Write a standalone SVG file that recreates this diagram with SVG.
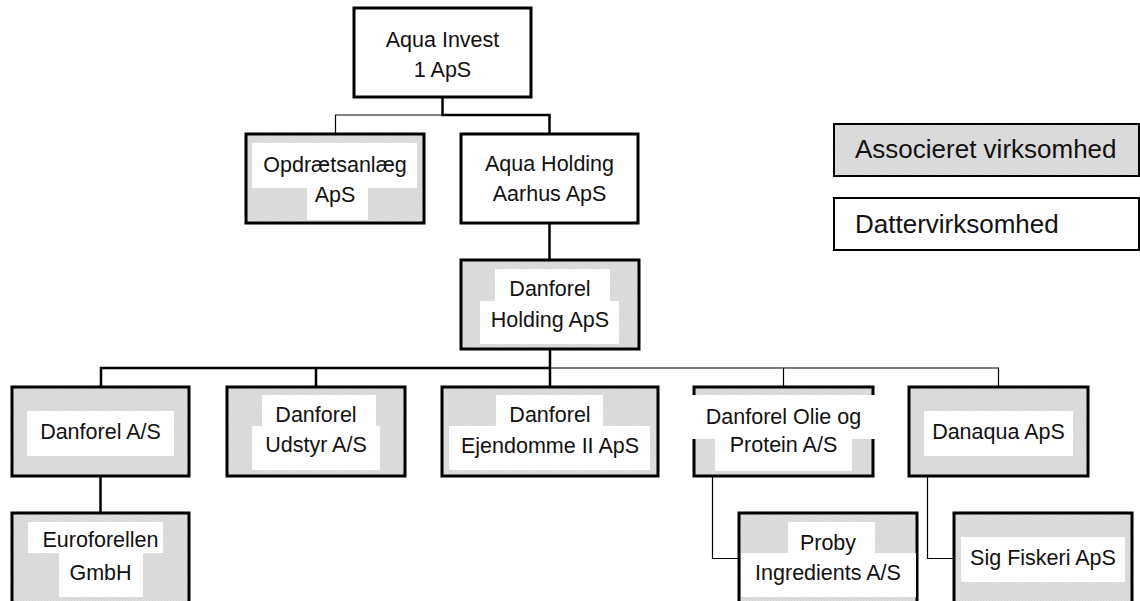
<svg xmlns="http://www.w3.org/2000/svg" width="1140" height="601" viewBox="0 0 1140 601">
<defs>
<pattern id="hatch" width="3" height="3" patternUnits="userSpaceOnUse">
<rect width="3" height="3" fill="#dedede"/>
<path d="M-1,1 l2,-2 M0,3 l3,-3 M2,4 l2,-2" stroke="#d0d0d0" stroke-width="0.8"/>
</pattern>
</defs>
<style>
.box{stroke:#000;stroke-width:3}
.assoc{fill:url(#hatch)}
.sub{fill:#fff}
.hl{fill:#fff}
.t{font-family:"Liberation Sans",Arial,sans-serif;font-size:21.5px;fill:#111;text-anchor:middle}
.lg{font-family:"Liberation Sans",Arial,sans-serif;font-size:26px;fill:#111}
.thick{stroke:#000;stroke-width:2.5;fill:none}
.thin{stroke:#000;stroke-width:1.2;fill:none}
</style>
<rect width="1140" height="601" fill="#fff"/>
<g id="connectors">
<path class="thick" d="M442.5,97 V115 H549.5 V134"/>
<path class="thin" d="M442.5,115 H335.5 V134"/>
<path class="thick" d="M549.5,223 V260"/>
<path class="thick" d="M550,349 V387 M550,368 H101 V387 M316,368 V387"/>
<path class="thin" d="M550,368 H998.5 V387 M783.5,368 V387"/>
<path class="thick" d="M100.5,476 V513"/>
<path class="thin" d="M712.5,476 V558.5 H739"/>
<path class="thin" d="M927.5,476 V558.5 H954"/>
</g>
<g id="aqua-invest">
<rect class="box sub" x="354" y="8" width="177" height="89"/>
<text class="t" x="442.5" y="47">Aqua Invest</text>
<text class="t" x="442.5" y="77">1 ApS</text>
</g>
<g id="opdraetsanlaeg">
<rect class="box assoc" x="246" y="134" width="178" height="89"/>
<rect class="hl" x="252" y="143" width="165" height="45"/>
<rect class="hl" x="307" y="188" width="61" height="32"/>
<text class="t" x="335" y="172">Opdrætsanlæg</text>
<text class="t" x="335" y="202">ApS</text>
</g>
<g id="aqua-holding">
<rect class="box sub" x="461" y="134" width="177" height="89"/>
<text class="t" x="549.5" y="171">Aqua Holding</text>
<text class="t" x="549.5" y="201">Aarhus ApS</text>
</g>
<g id="danforel-holding">
<rect class="box assoc" x="461" y="260" width="178" height="89"/>
<rect class="hl" x="495" y="269" width="115" height="32"/>
<rect class="hl" x="480" y="301" width="139" height="43"/>
<text class="t" x="550" y="296">Danforel</text>
<text class="t" x="550" y="327">Holding ApS</text>
</g>
<g id="danforel-as">
<rect class="box assoc" x="12" y="387" width="177" height="89"/>
<rect class="hl" x="27" y="411" width="147" height="45"/>
<text class="t" x="100.5" y="439">Danforel A/S</text>
</g>
<g id="danforel-udstyr">
<rect class="box assoc" x="227" y="387" width="178" height="89"/>
<rect class="hl" x="262" y="395" width="114" height="31"/>
<rect class="hl" x="252" y="426" width="128" height="44"/>
<text class="t" x="316" y="422">Danforel</text>
<text class="t" x="316" y="452">Udstyr A/S</text>
</g>
<g id="danforel-ejendomme">
<rect class="box assoc" x="442" y="387" width="216" height="89"/>
<rect class="hl" x="496" y="395" width="107" height="31"/>
<rect class="hl" x="449" y="426" width="201" height="44"/>
<text class="t" x="550" y="422">Danforel</text>
<text class="t" x="550" y="453">Ejendomme II ApS</text>
</g>
<g id="danforel-olie">
<rect class="box assoc" x="694" y="387" width="179" height="89"/>
<rect class="hl" x="692" y="395" width="183" height="44"/>
<rect class="hl" x="715" y="439" width="137" height="32"/>
<text class="t" x="783.5" y="424">Danforel Olie og</text>
<text class="t" x="783.5" y="452">Protein A/S</text>
</g>
<g id="danaqua">
<rect class="box assoc" x="909" y="387" width="179" height="89"/>
<rect class="hl" x="924" y="411" width="149" height="45"/>
<text class="t" x="998.5" y="439">Danaqua ApS</text>
</g>
<g id="euroforellen">
<rect class="box assoc" x="12" y="513" width="177" height="95"/>
<rect class="hl" x="28" y="522" width="135" height="31"/>
<rect class="hl" x="59" y="553" width="84" height="44"/>
<text class="t" x="100.5" y="547">Euroforellen</text>
<text class="t" x="100.5" y="580">GmbH</text>
</g>
<g id="proby">
<rect class="box assoc" x="739" y="513" width="178" height="95"/>
<rect class="hl" x="788" y="522" width="87" height="31"/>
<rect class="hl" x="741" y="553" width="175" height="44"/>
<text class="t" x="828" y="550">Proby</text>
<text class="t" x="828" y="580">Ingredients A/S</text>
</g>
<g id="sig-fiskeri">
<rect class="box assoc" x="954" y="513" width="178" height="95"/>
<rect class="hl" x="961" y="537" width="164" height="45"/>
<text class="t" x="1043" y="565">Sig Fiskeri ApS</text>
</g>
<g id="legend-associeret">
<rect class="assoc" x="834" y="124" width="305" height="52" stroke="#000" stroke-width="2"/>
<text class="lg" x="855" y="158">Associeret virksomhed</text>
</g>
<g id="legend-datter">
<rect class="sub" x="834" y="198" width="305" height="52" stroke="#000" stroke-width="2"/>
<text class="lg" x="855" y="233">Dattervirksomhed</text>
</g>
</svg>
